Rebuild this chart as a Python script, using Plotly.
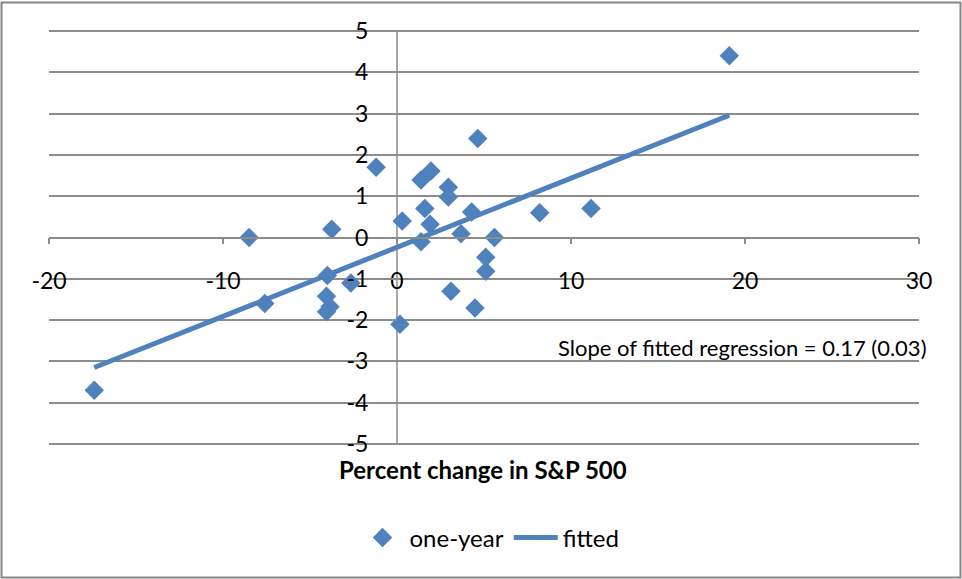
import plotly.graph_objects as go

# ---- data ----
sp500_change = [-17.4, -8.5, -7.6, -3.75, -4.0, -2.65, -4.05, -3.85, -4.05, -1.2,
                0.17, 0.3, 1.38, 1.95, 2.95, 2.95, 1.6, 1.9, 1.38, 3.68,
                4.29, 4.64, 5.6, 5.1, 5.1, 3.1, 4.48, 8.2, 11.15, 19.1]
one_year = [-3.7, 0.0, -1.6, 0.2, -0.92, -1.1, -1.42, -1.68, -1.8, 1.7,
            -2.1, 0.4, 1.39, 1.61, 1.22, 0.98, 0.7, 0.32, -0.1, 0.09,
            0.62, 2.4, 0.0, -0.48, -0.82, -1.3, -1.71, 0.6, 0.7, 4.4]
fitted_x = [-17.4, 19.1]
fitted_y = [-3.15, 2.96]

x_ticks = [-20, -10, 0, 10, 20, 30]
x_tick_labels = ["-20", "-10", "0", "10", "20", "30"]
y_ticks = [-5, -4, -3, -2, -1, 0, 1, 2, 3, 4, 5]
y_tick_labels = ["-5", "-4", "-3", "-2", "-1", "0", "1", "2", "3", "4", "5"]
x_range = [-20, 30]
y_range = [-5.05, 5.05]

x_title = "Percent change in S&P 500"
note_text = "Slope of fitted regression = 0.17 (0.03)"

BLUE = "#4F81BD"
GRID = "#8C8C8C"
FONT = "Lato, 'Open Sans', sans-serif"

W, H = 962, 579
ML, MR, MT, MB = 49, 43, 29, 133
PW, PH = W - ML - MR, H - MT - MB
BOTTOM = H - MB  # pixel row of the plot-area bottom


def py_to_paper(py):
    return (BOTTOM - py) / PH


def px_to_paper(px):
    return (px - ML) / PW


fig = go.Figure()
fig.add_trace(go.Scatter(
    x=sp500_change, y=one_year, mode="markers", name="one-year",
    marker=dict(symbol="diamond", size=15, color=BLUE, line=dict(width=0)),
))
fig.add_trace(go.Scatter(
    x=fitted_x, y=fitted_y, mode="lines", name="fitted",
    line=dict(color=BLUE, width=5),
))

x0_frac = (0 - x_range[0]) / (x_range[1] - x_range[0])
y0_frac = (0 - y_range[0]) / (y_range[1] - y_range[0])

fig.update_layout(
    width=W, height=H,
    margin=dict(l=ML, r=MR, t=MT, b=MB, autoexpand=False),
    paper_bgcolor="white", plot_bgcolor="white",
    font=dict(family=FONT, color="black", size=20),
    showlegend=True,
    legend=dict(orientation="h", x=px_to_paper(490), xanchor="center", y=py_to_paper(538),
                yanchor="middle", font=dict(size=24), itemwidth=44, traceorder="normal"),
    xaxis=dict(range=x_range, tickvals=x_ticks, ticktext=x_tick_labels,
               showgrid=False, zeroline=False, automargin=False,
               showline=True, linecolor=GRID, linewidth=1.5,
               ticks="outside", ticklen=6, tickcolor=GRID, tickwidth=1.5,
               anchor="free", position=y0_frac, ticklabelstandoff=17,
               tickfont=dict(size=23)),
    yaxis=dict(range=y_range, tickvals=y_ticks, ticktext=y_tick_labels,
               showgrid=True, gridcolor=GRID, gridwidth=1.5, automargin=False,
               zeroline=False, showline=False,
               ticks="outside", ticklen=6, tickcolor=GRID, tickwidth=1.5,
               anchor="free", position=x0_frac, ticklabelstandoff=18,
               tickfont=dict(size=23)),
    annotations=[
        dict(text=f"<b>{x_title}</b>", xref="paper", yref="paper", x=px_to_paper(483),
             y=py_to_paper(469),
             xanchor="center", yanchor="middle", showarrow=False, font=dict(size=24)),
        dict(text=note_text, xref="paper", yref="paper", x=px_to_paper(929), y=py_to_paper(347),
             xanchor="right", yanchor="middle", showarrow=False, font=dict(size=22)),
    ],
    shapes=[
        # vertical axis line at x = 0, spanning the labelled y range
        dict(type="line", xref="x", yref="y", x0=0, x1=0, y0=y_ticks[0], y1=y_ticks[-1],
             line=dict(color=GRID, width=1.5), layer="below"),
        # outer chart border
        dict(type="rect", xref="paper", yref="paper",
             x0=px_to_paper(1.5), x1=px_to_paper(960.5),
             y0=py_to_paper(577.5), y1=py_to_paper(2.5),
             line=dict(color="#868686", width=2), fillcolor="rgba(0,0,0,0)", layer="below"),
    ],
)

fig.write_html(
    "out.html",
    config={"displayModeBar": False},
    post_script="document.body.style.margin='0';document.body.style.overflow='hidden';",
)
